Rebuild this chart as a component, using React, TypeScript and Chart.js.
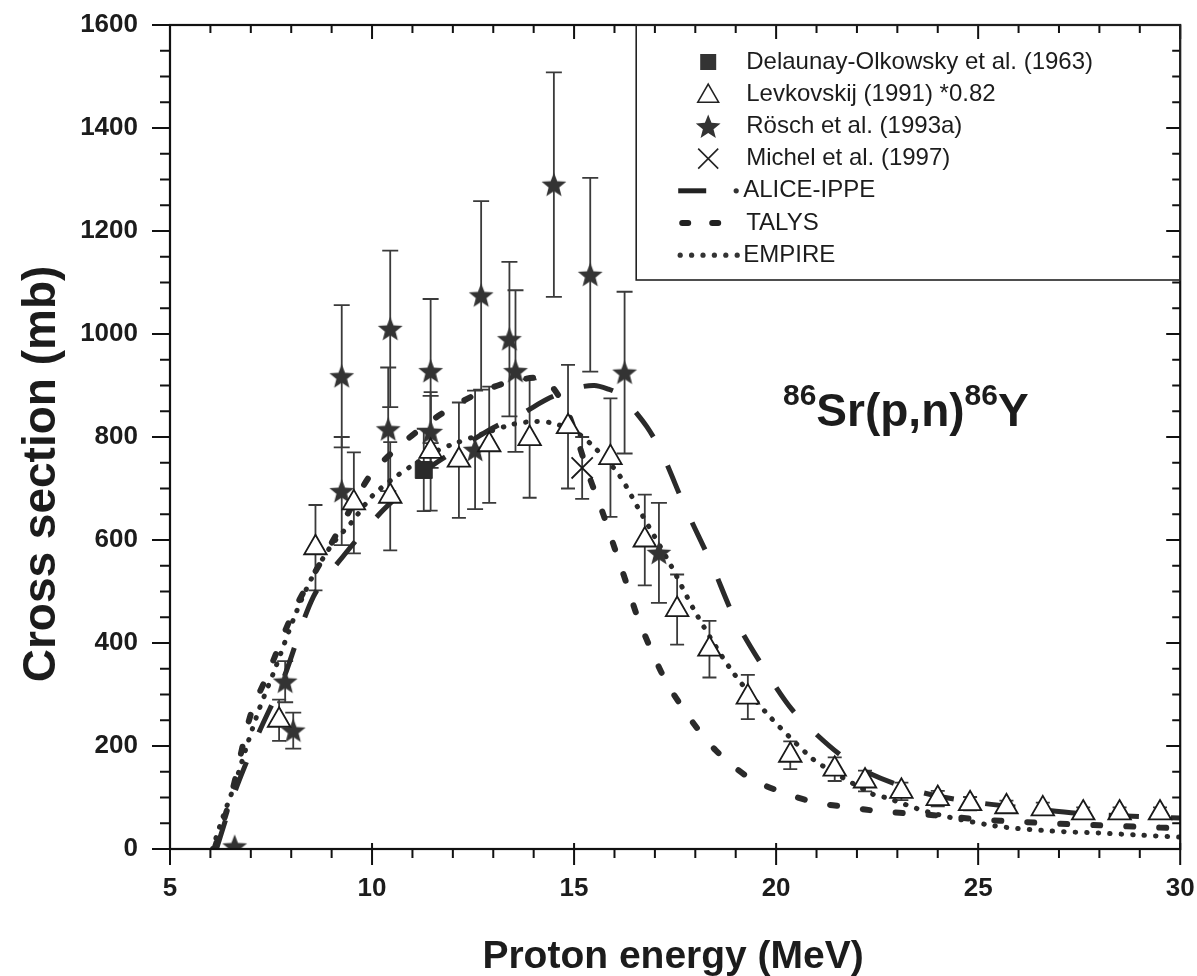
import React, { useEffect, useRef } from 'react';
import { Chart, registerables } from 'chart.js';

Chart.register(...registerables);

// ---------- data ----------
const levkE = [7.7, 8.6, 9.55, 10.45, 11.45, 12.15, 12.9, 13.9, 14.85, 15.9, 16.75, 17.55, 18.35, 19.3, 20.35, 21.45, 22.2, 23.1, 24.0, 24.8, 25.7, 26.6, 27.6, 28.5, 29.5];
const levkS = [250, 585, 672, 685, 772, 755, 785, 797, 820, 760, 600, 465, 388, 295, 182, 155, 132, 112, 98, 88, 82, 78, 70, 70, 70];
const levkErr = [40, 83, 98, 105, 115, 112, 113, 115, 120, 115, 88, 68, 55, 43, 27, 23, 20, 17, 15, 13, 12, 12, 11, 11, 11];

const roschE = [6.6, 7.85, 8.05, 9.25, 9.25, 10.45, 10.4, 11.45, 11.45, 12.55, 12.7, 13.4, 13.55, 14.5, 15.4, 16.25, 17.1];
const roschS = [5, 325, 230, 918, 695, 1010, 815, 928, 810, 775, 1075, 990, 928, 1290, 1115, 925, 575];
const roschErr = [0, 40, 35, 138, 105, 152, 120, 140, 70, 115, 183, 150, 157, 218, 188, 157, 97];

const delaunayE = [11.28];
const delaunayS = [736];
const delaunayErr = [80];

const michelE = [15.2];
const michelS = [740];
const michelErr = [60];

const aliceE = [6.15, 6.6, 7.2, 7.8, 8.55, 9.3, 10.2, 10.85, 11.5, 12.2, 13.0, 13.7, 14.4, 15.05, 15.5, 15.85, 16.1, 16.4, 16.8, 17.15, 17.75, 18.4, 19.0, 19.85, 20.4, 20.95, 21.6, 22.25, 23.5, 24.9, 26.5, 27.7, 29.3, 30.0];
const aliceS = [0, 110, 226, 329, 490, 570, 652, 700, 745, 780, 818, 845, 876, 895, 900, 893, 884, 860, 820, 773, 663, 554, 444, 332, 270, 226, 182, 149, 112, 91, 77, 68, 62, 60];

const talysE = [6.1, 6.5, 7.0, 7.4, 8.1, 8.9, 9.5, 10.0, 10.85, 11.7, 12.5, 13.3, 14.0, 14.3, 14.8, 15.1, 15.4, 15.7, 16.0, 16.3, 16.55, 16.9, 17.3, 17.9, 18.5, 19.3, 20.15, 21.0, 21.8, 22.6, 23.5, 24.3, 25.1, 26.0, 27.0, 28.0, 29.0, 30.0];
const talysS = [0, 100, 262, 336, 468, 580, 665, 730, 794, 844, 880, 905, 915, 912, 855, 790, 718, 655, 585, 515, 455, 388, 322, 250, 192, 140, 110, 90, 81, 73, 68, 63, 57, 53, 49, 46, 43, 40];

const empireE = [6.05, 6.3, 6.6, 6.9, 7.2, 7.6, 8.1, 8.5, 9.0, 9.5, 10.0, 10.5, 11.0, 11.6, 12.0, 12.7, 13.5, 14.0, 14.4, 15.0, 15.5, 16.1, 16.6, 17.4, 18.0, 18.85, 19.75, 20.8, 21.1, 22.4, 22.7, 23.8, 25.4, 26.8, 28.0, 29.0, 30.0];
const empireS = [0, 60, 125, 200, 270, 350, 455, 525, 590, 635, 685, 718, 745, 773, 786, 805, 825, 830, 828, 812, 780, 728, 660, 550, 460, 352, 265, 182, 164, 106, 100, 71, 45, 35, 31, 27, 23];

const xTicks = [5, 10, 15, 20, 25, 30];
const yTicks = [0, 200, 400, 600, 800, 1000, 1200, 1400, 1600];

const FONT = "'Liberation Sans', Arial, Helvetica, sans-serif";
const INK = '#1c1c1c';

const pts = (E: number[], S: number[]) => E.map((e, i) => ({ x: e, y: S[i] }));

function drawStar(ctx: CanvasRenderingContext2D, cx: number, cy: number, ro: number, ri: number) {
  ctx.beginPath();
  for (let k = 0; k < 10; k++) {
    const r = k % 2 === 0 ? ro : ri;
    const a = -Math.PI / 2 + (k * Math.PI) / 5;
    const px = cx + r * Math.cos(a);
    const py = cy + r * Math.sin(a);
    if (k === 0) ctx.moveTo(px, py);
    else ctx.lineTo(px, py);
  }
  ctx.closePath();
  ctx.fill();
}

function makeStarCanvas() {
  const c = document.createElement('canvas');
  c.width = 28;
  c.height = 28;
  const g = c.getContext('2d')!;
  g.fillStyle = '#333';
  drawStar(g, 14, 15, 13, 5.6);
  return c;
}

function drawTriangle(ctx: CanvasRenderingContext2D, cx: number, cy: number, r: number) {
  ctx.beginPath();
  for (let k = 0; k < 3; k++) {
    const a = (k * 2 * Math.PI) / 3;
    const px = cx + Math.sin(a) * r;
    const py = cy - Math.cos(a) * r;
    if (k === 0) ctx.moveTo(px, py);
    else ctx.lineTo(px, py);
  }
  ctx.closePath();
  ctx.fillStyle = '#fff';
  ctx.fill();
  ctx.stroke();
}

const errorBarPlugin = {
  id: 'errorBars',
  beforeDatasetsDraw(chart: any) {
    const { ctx, scales } = chart;
    const x = scales.x;
    const y = scales.y;
    ctx.save();
    ctx.strokeStyle = '#3a3a3a';
    ctx.lineWidth = 1.8;
    const draw = (E: number[], S: number[], Er: number[], cap: number) => {
      E.forEach((e, i) => {
        if (!Er[i]) return;
        const px = x.getPixelForValue(e);
        const top = y.getPixelForValue(S[i] + Er[i]);
        const bot = y.getPixelForValue(S[i] - Er[i]);
        ctx.beginPath();
        ctx.moveTo(px, top);
        ctx.lineTo(px, bot);
        ctx.moveTo(px - cap, top);
        ctx.lineTo(px + cap, top);
        ctx.moveTo(px - cap, bot);
        ctx.lineTo(px + cap, bot);
        ctx.stroke();
      });
    };
    draw(levkE, levkS, levkErr, 7);
    draw(roschE, roschS, roschErr, 8);
    draw(delaunayE, delaunayS, delaunayErr, 7);
    draw(michelE, michelS, michelErr, 7);
    ctx.restore();
  },
};

const framePlugin = {
  id: 'frameTicks',
  afterDraw(chart: any) {
    const { ctx, chartArea: a, scales } = chart;
    const x = scales.x;
    const y = scales.y;
    ctx.save();
    ctx.strokeStyle = '#111';
    ctx.lineWidth = 2.2;
    ctx.strokeRect(a.left, a.top, a.right - a.left, a.bottom - a.top);
    ctx.lineWidth = 2;
    ctx.beginPath();
    for (let v = x.min; v <= x.max + 1e-9; v += 1) {
      const px = x.getPixelForValue(v);
      const major = Math.abs(v % 5) < 1e-9;
      ctx.moveTo(px, a.bottom - (major ? 6 : 0));
      ctx.lineTo(px, a.bottom + (major ? 16 : 9));
      ctx.moveTo(px, a.top);
      ctx.lineTo(px, a.top + (major ? 14 : 8));
    }
    for (let v = y.min; v <= y.max + 1e-9; v += 50) {
      const py = y.getPixelForValue(v);
      const major = Math.abs(v % 200) < 1e-9;
      ctx.moveTo(a.left - (major ? 18 : 10), py);
      ctx.lineTo(a.left, py);
      ctx.moveTo(a.right - (major ? 14 : 8), py);
      ctx.lineTo(a.right, py);
    }
    ctx.stroke();

    // axis titles
    ctx.fillStyle = INK;
    ctx.font = `bold 39px ${FONT}`;
    ctx.textAlign = 'center';
    ctx.textBaseline = 'alphabetic';
    ctx.fillText('Proton energy (MeV)', (a.left + a.right) / 2 - 2, 968);
    ctx.save();
    ctx.translate(55, 474);
    ctx.rotate(-Math.PI / 2);
    ctx.font = `bold 46px ${FONT}`;
    ctx.fillText('Cross section (mb)', 0, 0);
    ctx.restore();

    // reaction annotation
    ctx.textAlign = 'left';
    let cx = 783;
    ctx.font = `bold 30px ${FONT}`;
    ctx.fillText('86', cx, 405);
    cx += ctx.measureText('86').width;
    ctx.font = `bold 46px ${FONT}`;
    ctx.fillText('Sr(p,n)', cx, 426);
    cx += ctx.measureText('Sr(p,n)').width;
    ctx.font = `bold 30px ${FONT}`;
    ctx.fillText('86', cx, 405);
    cx += ctx.measureText('86').width;
    ctx.font = `bold 46px ${FONT}`;
    ctx.fillText('Y', cx, 426);

    // legend
    const lx = a.right - 544;
    const ly = a.top;
    ctx.lineWidth = 1.6;
    ctx.strokeStyle = '#222';
    ctx.strokeRect(lx, ly, a.right - lx, 255);
    const rows = chart.data.datasets.map((d: any) => d.label);
    const sx = lx + 72;
    ctx.font = `24px ${FONT}`;
    ctx.textBaseline = 'middle';
    rows.forEach((label: string, i: number) => {
      const ry = ly + 37 + i * 32.2;
      ctx.save();
      ctx.fillStyle = '#333';
      ctx.strokeStyle = '#222';
      if (i === 0) {
        ctx.fillRect(sx - 8, ry - 8, 16, 16);
      } else if (i === 1) {
        ctx.lineWidth = 1.6;
        drawTriangle(ctx, sx, ry + 2, 12);
      } else if (i === 2) {
        drawStar(ctx, sx, ry + 1, 13, 5.6);
      } else if (i === 3) {
        ctx.lineWidth = 1.6;
        ctx.beginPath();
        ctx.moveTo(sx - 10, ry - 10);
        ctx.lineTo(sx + 10, ry + 10);
        ctx.moveTo(sx + 10, ry - 10);
        ctx.lineTo(sx - 10, ry + 10);
        ctx.stroke();
      } else if (i === 4) {
        ctx.lineWidth = 5;
        ctx.beginPath();
        ctx.moveTo(sx - 30, ry);
        ctx.lineTo(sx - 2, ry);
        ctx.stroke();
        ctx.beginPath();
        ctx.arc(sx + 28, ry, 2.6, 0, Math.PI * 2);
        ctx.fill();
      } else if (i === 5) {
        ctx.lineWidth = 6;
        ctx.lineCap = 'round';
        ctx.beginPath();
        ctx.moveTo(sx - 26, ry);
        ctx.lineTo(sx - 20, ry);
        ctx.moveTo(sx + 4, ry);
        ctx.lineTo(sx + 10, ry);
        ctx.stroke();
      } else {
        for (let k = 0; k < 6; k++) {
          ctx.beginPath();
          ctx.arc(sx - 28 + k * 11.4, ry, 2.6, 0, Math.PI * 2);
          ctx.fill();
        }
      }
      ctx.restore();
      ctx.fillStyle = INK;
      ctx.fillText(label, lx + (i === 4 || i === 6 ? 107 : 110), ry);
    });
    ctx.restore();
  },
};

export default function App() {
  const ref = useRef<HTMLCanvasElement>(null);
  useEffect(() => {
    const star = makeStarCanvas();
    const tickFont = { family: FONT, size: 26, weight: 'bold' as const };
    const chart = new Chart(ref.current!, {
      type: 'scatter',
      data: {
        datasets: [
          {
            label: 'Delaunay-Olkowsky et al. (1963)',
            data: pts(delaunayE, delaunayS),
            pointStyle: 'rect',
            pointRadius: 12,
            backgroundColor: '#2a2a2a',
            borderColor: '#2a2a2a',
            borderWidth: 1,
          },
          {
            label: 'Levkovskij (1991) *0.82',
            data: pts(levkE, levkS),
            pointStyle: 'triangle',
            pointRadius: 13,
            backgroundColor: '#ffffff',
            borderColor: '#1a1a1a',
            borderWidth: 1.8,
          },
          {
            label: 'Rösch et al. (1993a)',
            data: pts(roschE, roschS),
            pointStyle: star as any,
            pointRadius: 13,
            backgroundColor: '#333',
            borderColor: '#333',
          },
          {
            label: 'Michel et al. (1997)',
            data: pts(michelE, michelS),
            pointStyle: 'crossRot',
            pointRadius: 15,
            borderColor: '#1a1a1a',
            borderWidth: 1.8,
          },
          {
            label: 'ALICE-IPPE',
            data: pts(aliceE, aliceS),
            showLine: true,
            pointRadius: 0,
            borderColor: '#2a2a2a',
            borderWidth: 5,
            borderDash: [30, 32],
            tension: 0.3,
            fill: false,
          },
          {
            label: 'TALYS',
            data: pts(talysE, talysS),
            showLine: true,
            pointRadius: 0,
            borderColor: '#2a2a2a',
            borderWidth: 6,
            borderDash: [7, 26],
            borderCapStyle: 'round',
            tension: 0.3,
            fill: false,
          },
          {
            label: 'EMPIRE',
            data: pts(empireE, empireS),
            showLine: true,
            pointRadius: 0,
            borderColor: '#2a2a2a',
            borderWidth: 5,
            borderDash: [0.5, 11],
            borderCapStyle: 'round',
            tension: 0.3,
            fill: false,
          },
        ],
      },
      options: {
        responsive: false,
        maintainAspectRatio: false,
        animation: false,
        devicePixelRatio: 1,
        layout: { padding: { top: 25, right: 15, left: 0, bottom: 0 } },
        plugins: { legend: { display: false }, tooltip: { enabled: false }, title: { display: false } },
        scales: {
          x: {
            type: 'linear',
            min: 5,
            max: 30,
            afterBuildTicks: (s: any) => {
              s.ticks = xTicks.map((v) => ({ value: v }));
            },
            ticks: { font: tickFont, color: INK, padding: 24, maxRotation: 0, callback: (v: any) => String(v) },
            grid: { display: false, drawTicks: false },
            border: { display: false },
            afterFit: (s: any) => {
              s.height = 127;
              s.paddingLeft = 0;
              s.paddingRight = 0;
            },
          },
          y: {
            type: 'linear',
            min: 0,
            max: 1600,
            afterBuildTicks: (s: any) => {
              s.ticks = yTicks.map((v) => ({ value: v }));
            },
            ticks: { font: tickFont, color: INK, padding: 32, callback: (v: any) => String(v) },
            grid: { display: false, drawTicks: false },
            border: { display: false },
            afterFit: (s: any) => {
              s.width = 170;
              s.paddingTop = 0;
              s.paddingBottom = 0;
            },
          },
        },
      } as any,
      plugins: [errorBarPlugin, framePlugin],
    });
    return () => chart.destroy();
  }, []);
  return (
    <div style={{ position: 'absolute', left: 0, top: 0, width: 1197, height: 976, background: '#fff' }}>
      <canvas ref={ref} width={1197} height={976} style={{ display: 'block', width: 1197, height: 976 }} />
    </div>
  );
}
